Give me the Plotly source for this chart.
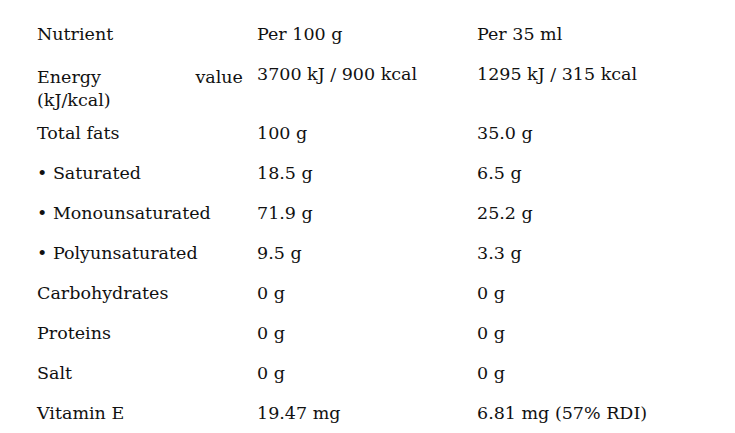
import plotly.graph_objects as go

headers = ["Nutrient", "Per 100 g", "Per 35 ml"]
nutrients = [
    "Energy" + "\u00a0" * 17 + "value<br>(kJ/kcal)",
    "Total fats",
    "• Saturated",
    "• Monounsaturated",
    "• Polyunsaturated",
    "Carbohydrates",
    "Proteins",
    "Salt",
    "Vitamin E",
]
per_100g = ["3700 kJ / 900 kcal", "100 g", "18.5 g", "71.9 g", "9.5 g", "0 g", "0 g", "0 g", "19.47 mg"]
per_35ml = ["1295 kJ / 315 kcal", "35.0 g", "6.5 g", "25.2 g", "3.3 g", "0 g", "0 g", "0 g", "6.81 mg (57% RDI)"]

FONT = "DejaVu Serif"

fig = go.Figure(
    go.Table(
        columnwidth=[220, 220, 220],
        header=dict(
            values=headers,
            align="left",
            height=40,
            fill_color="white",
            line_color="white",
            font=dict(family=FONT, size=17.5, color="#111"),
        ),
        cells=dict(
            values=[nutrients, per_100g, per_35ml],
            align="left",
            height=40,
            fill_color="white",
            line_color="white",
            font=dict(family=FONT, size=17.5, color="#111"),
        ),
    )
)
fig.update_layout(
    width=735,
    height=433,
    margin=dict(l=21, r=54, t=11, b=0),
    paper_bgcolor="white",
)
fig.write_html("out.html")
